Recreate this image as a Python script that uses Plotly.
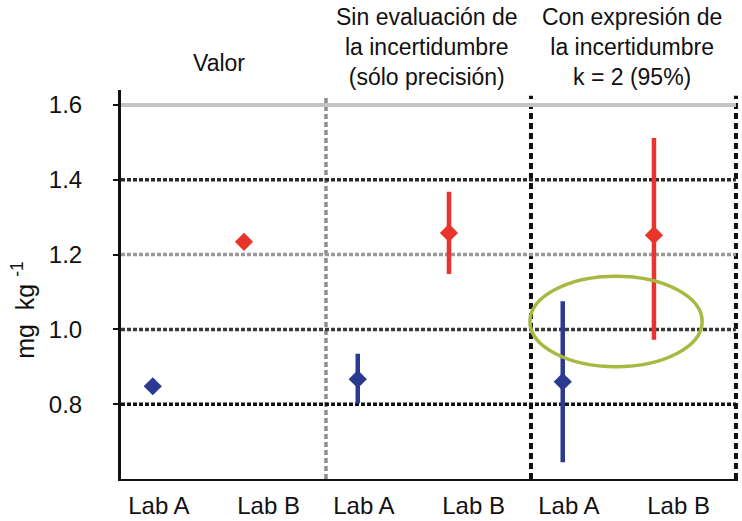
import plotly.graph_objects as go

# ---- data ----
panel_titles = [
    "Valor",
    "Sin evaluación de<br>la incertidumbre<br>(sólo precisión)",
    "Con expresión de<br>la incertidumbre<br>k = 2 (95%)",
]
labs = ["Lab A", "Lab B"]
lab_a_values = [0.848, 0.867, 0.860]
lab_a_err_plus = [0.0, 0.068, 0.215]
lab_a_err_minus = [0.0, 0.065, 0.215]
lab_b_values = [1.234, 1.258, 1.252]
lab_b_err_plus = [0.0, 0.11, 0.26]
lab_b_err_minus = [0.0, 0.11, 0.28]
y_ticks = [0.8, 1.0, 1.2, 1.4, 1.6]
y_title = "mg  kg <sup>-1</sup>"

# ---- layout helpers ----
PANEL_W = 2.0
point_offset = {"Lab A": 0.31, "Lab B": 1.20}
label_offset = {"Lab A": 0.37, "Lab B": 1.44}
colors = {"Lab A": "#2b3990", "Lab B": "#e8342a"}

fig = go.Figure()
series = {
    "Lab A": (lab_a_values, lab_a_err_plus, lab_a_err_minus),
    "Lab B": (lab_b_values, lab_b_err_plus, lab_b_err_minus),
}
for lab in labs:
    vals, ep, em = series[lab]
    xs = [i * PANEL_W + point_offset[lab] for i in range(len(vals))]
    fig.add_trace(go.Scatter(
        x=xs, y=vals, mode="markers", name=lab, showlegend=False,
        marker=dict(symbol="diamond", size=14, color=colors[lab]),
        error_y=dict(type="data", symmetric=False, array=ep, arrayminus=em,
                     color=colors[lab], thickness=4.5, width=0),
    ))

tickvals, ticktext = [], []
for i in range(len(panel_titles)):
    for lab in labs:
        tickvals.append(i * PANEL_W + label_offset[lab])
        ticktext.append(lab)

shapes = []
grid_style = {
    1.6: dict(color="#c4c4c4", width=4, dash="solid"),
    1.4: dict(color="#2a2a2a", width=3.5, dash="4px,2px"),
    1.2: dict(color="#9a9a9a", width=3.5, dash="4px,2px"),
    1.0: dict(color="#3a3a3a", width=3.5, dash="4px,2px"),
    0.8: dict(color="#111111", width=3.5, dash="4px,2px"),
}
for v in y_ticks:
    shapes.append(dict(type="line", xref="x", yref="y", x0=0, x1=6,
                       y0=v, y1=v, line=grid_style[v], layer="below"))

divider_style = {
    2: dict(color="#8c8c8c", width=3.5, dash="5px,3px"),
    4: dict(color="#111111", width=4, dash="6px,4px"),
    6: dict(color="#111111", width=4, dash="6px,4px"),
}
for xv, st in divider_style.items():
    shapes.append(dict(type="line", xref="x", yref="paper", x0=xv, x1=xv,
                       y0=0, y1=0.985, line=st, layer="below"))

# highlight ellipse
shapes.append(dict(type="circle", xref="x", yref="y", x0=3.99, x1=5.67,
                   y0=0.90, y1=1.142, line=dict(color="#a8b840", width=3.5)))

annotations = []
title_shift = [27.5, 43, 43]
title_x = [0.96, 2.99, 4.99]
for i, txt in enumerate(panel_titles):
    annotations.append(dict(text=txt, xref="x", yref="paper", x=title_x[i],
                            y=1, yanchor="middle", xanchor="center",
                            yshift=title_shift[i], showarrow=False,
                            font=dict(family="Liberation Sans", size=23, color="#111")))

annotations.append(dict(text=y_title, xref="paper", yref="paper", x=0, xshift=-98,
                        y=0.435, xanchor="center", yanchor="middle", textangle=-90,
                        showarrow=False,
                        font=dict(family="Liberation Sans", size=25, color="#111")))

fig.update_layout(
    width=742, height=521,
    margin=dict(l=121, r=4, t=90, b=42),
    paper_bgcolor="white", plot_bgcolor="white",
    shapes=shapes, annotations=annotations,
    xaxis=dict(range=[0, 6.02], tickvals=tickvals, ticktext=ticktext,
               showgrid=False, zeroline=False, showline=True, automargin=False,
               linecolor="#111", linewidth=2, ticks="",
               ticklabelstandoff=4,
               tickfont=dict(family="Liberation Sans", size=24, color="#111")),
    yaxis=dict(range=[0.6, 1.64], tickvals=y_ticks,
               ticktext=[f"{v:.1f}" for v in y_ticks],
               showgrid=False, zeroline=False, showline=True, automargin=False,
               linecolor="#111", linewidth=3, ticks="outside", ticklen=5,
               tickcolor="#111", tickwidth=2, ticklabelstandoff=26,
               tickfont=dict(family="Liberation Sans", size=24, color="#111")),
)

# remove the default 8px page margin so the figure fills the window exactly
fig.write_html("out.html", config={"displayModeBar": False},
               post_script="document.body.style.margin='0';")
